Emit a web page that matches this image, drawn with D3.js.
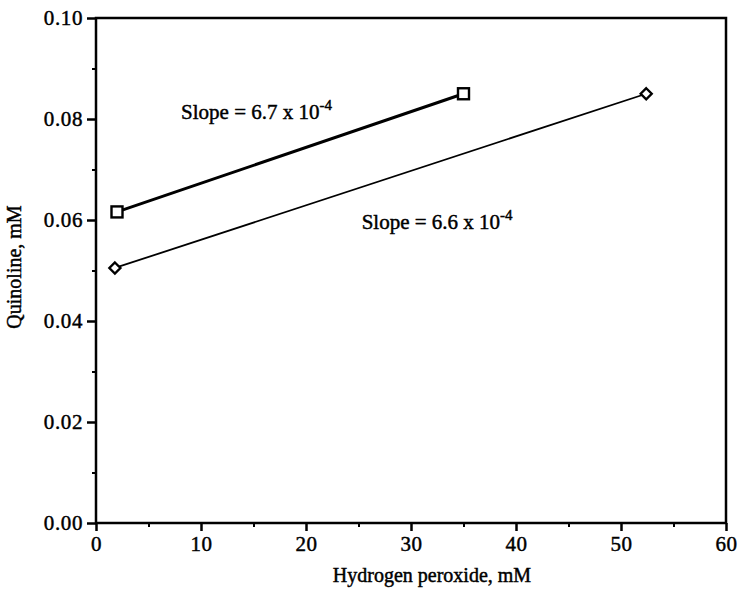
<!DOCTYPE html>
<html lang="en">
<head>
    <meta charset="UTF-8">
    <script src="https://cdn.jsdelivr.net/npm/d3@7"></script>
    <title>Quinoline vs hydrogen peroxide</title>
    <style>
        body {
            margin: 0;
            background: #fff;
        }

        text {
            font-family: 'Liberation Serif', 'Times New Roman', serif;
            fill: #000;
            stroke: #000;
            stroke-width: 0.45px;
        }
    </style>
</head>

<body>
    <div id="chart"></div>

    <script>
        // data
        const squareX = [2.0, 35.0];
        const squareY = [0.0616, 0.0850];
        const diamondX = [1.8, 52.4];
        const diamondY = [0.0505, 0.0850];

        const xTicks = [0, 10, 20, 30, 40, 50, 60];
        const yTicks = [0.00, 0.02, 0.04, 0.06, 0.08, 0.10];
        const xMinor = [5, 15, 25, 35, 45, 55];
        const yMinor = [0.01, 0.03, 0.05, 0.07, 0.09];

        const slopeLabels = [
            { text: "Slope = 6.7 x 10", exp: "-4", x: 8.1, y: 0.0800 },
            { text: "Slope = 6.6 x 10", exp: "-4", x: 25.3, y: 0.0583 }
        ];

        const width = 739;
        const height = 591;
        const margin = { top: 18, right: 13, bottom: 68, left: 96 };

        const svg = d3.select("#chart").append("svg")
            .attr("width", width)
            .attr("height", height);

        const x = d3.scaleLinear()
            .domain([0, 60])
            .range([margin.left, width - margin.right]);

        const y = d3.scaleLinear()
            .domain([0, 0.10])
            .range([height - margin.bottom, margin.top]);

        // minor ticks first, then major axes on top
        svg.append("g")
            .attr("transform", `translate(0,${height - margin.bottom})`)
            .call(d3.axisBottom(x).tickValues(xMinor).tickSize(4).tickFormat(""))
            .call(g => g.select(".domain").remove())
            .call(g => g.selectAll("line").attr("stroke-width", 2));

        svg.append("g")
            .attr("transform", `translate(${margin.left},0)`)
            .call(d3.axisLeft(y).tickValues(yMinor).tickSize(4).tickFormat(""))
            .call(g => g.select(".domain").remove())
            .call(g => g.selectAll("line").attr("stroke-width", 2));

        const xAxis = svg.append("g")
            .attr("transform", `translate(0,${height - margin.bottom})`)
            .call(d3.axisBottom(x).tickValues(xTicks).tickSize(8).tickPadding(5).tickFormat(d3.format("d")));

        const yAxis = svg.append("g")
            .attr("transform", `translate(${margin.left},0)`)
            .call(d3.axisLeft(y).tickValues(yTicks).tickSize(9).tickPadding(4).tickFormat(d3.format(".2f")));

        [xAxis, yAxis].forEach(g => {
            g.select(".domain").remove();
            g.selectAll("line").attr("stroke-width", 2.5);
            g.selectAll("text")
                .style("font-family", "'Liberation Serif', serif")
                .style("font-size", "21px")
                .style("letter-spacing", "0.6px");
        });

        // frame
        svg.append("rect")
            .attr("x", x(0))
            .attr("y", y(0.10))
            .attr("width", x(60) - x(0))
            .attr("height", y(0) - y(0.10))
            .attr("fill", "none")
            .attr("stroke", "#000")
            .attr("stroke-width", 2.5);

        const line = d3.line()
            .x(d => x(d[0]))
            .y(d => y(d[1]));

        const squarePts = squareX.map((v, i) => [v, squareY[i]]);
        const diamondPts = diamondX.map((v, i) => [v, diamondY[i]]);

        svg.append("path")
            .datum(squarePts)
            .attr("d", line)
            .attr("fill", "none")
            .attr("stroke", "#000")
            .attr("stroke-width", 3);

        svg.append("path")
            .datum(diamondPts)
            .attr("d", line)
            .attr("fill", "none")
            .attr("stroke", "#000")
            .attr("stroke-width", 1.8);

        svg.selectAll(".sq")
            .data(squarePts)
            .enter()
            .append("rect")
            .attr("class", "sq")
            .attr("x", d => x(d[0]) - 5.5)
            .attr("y", d => y(d[1]) - 5.5)
            .attr("width", 11)
            .attr("height", 11)
            .attr("fill", "#fff")
            .attr("stroke", "#000")
            .attr("stroke-width", 2.4);

        svg.selectAll(".dm")
            .data(diamondPts)
            .enter()
            .append("path")
            .attr("class", "dm")
            .attr("transform", d => `translate(${x(d[0])},${y(d[1])})`)
            .attr("d", "M0,-5.5L5.5,0L0,5.5L-5.5,0Z")
            .attr("fill", "#fff")
            .attr("stroke", "#000")
            .attr("stroke-width", 2.4);

        // slope annotations
        slopeLabels.forEach(l => {
            const t = svg.append("text")
                .attr("x", x(l.x))
                .attr("y", y(l.y))
                .style("font-size", "21px")
                .text(l.text);
            t.append("tspan")
                .attr("dy", -9)
                .style("font-size", "15px")
                .text(l.exp);
        });

        // axis titles
        svg.append("text")
            .attr("x", 432)
            .attr("y", 582)
            .attr("text-anchor", "middle")
            .style("font-size", "20px")
            .text("Hydrogen peroxide, mM");

        svg.append("text")
            .attr("transform", `translate(21,267) rotate(-90)`)
            .attr("text-anchor", "middle")
            .style("font-size", "20px")
            .text("Quinoline, mM");
    </script>
</body>
</html>
